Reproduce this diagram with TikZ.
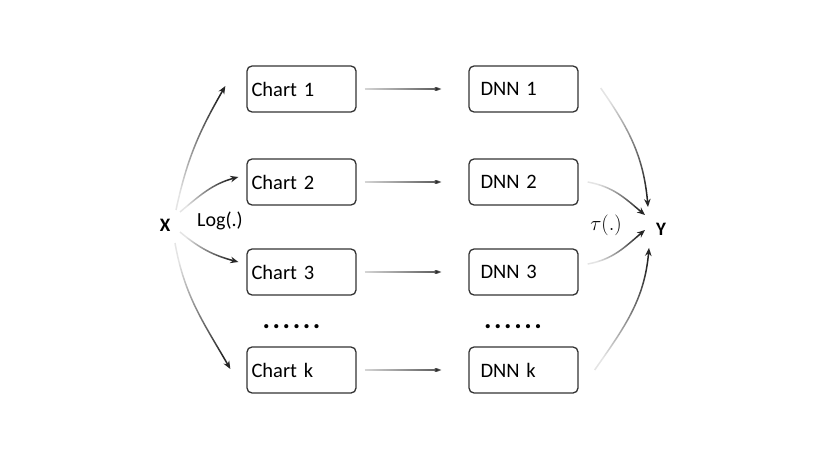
\documentclass[tikz,border=0pt]{standalone}
\usepackage{fontspec}
\setmainfont{Carlito}
\usetikzlibrary{arrows.meta,fadings}
\tikzfading[name=fadein, left color=transparent!88, middle color=transparent!5, right color=transparent!0]
\begin{document}
\begin{tikzpicture}[x=1pt,y=1pt,
  box/.style={draw=black!80, line width=1.3pt, rounded corners=5pt, minimum width=109pt, minimum height=46pt, align=left, font=\fontsize{20.5}{24}\selectfont},
  chartbox/.style={box, inner xsep=4.5pt, text width=100pt},
  dnnbox/.style={box, inner xsep=11.5pt, text width=86pt},
  lbl/.style={font=\fontsize{20}{24}\selectfont, inner sep=0pt},
  var/.style={font=\fontsize{19}{22}\selectfont\bfseries, inner sep=0pt},
  dotrow/.style={font=\fontsize{28}{28}\selectfont\bfseries, inner sep=0pt},
  conn/.style={draw=black!85, line width=1.5pt, -{Stealth[length=8pt,width=6.5pt]}},
]
\fill[white] (0,0) rectangle (817,-460);
\useasboundingbox (0,0) rectangle (817,-460);

\node[chartbox] (c1) at (301.5,-89) {Chart 1};
\node[chartbox] (c2) at (301.5,-182) {Chart 2};
\node[chartbox] (c3) at (301.5,-272) {Chart 3};
\node[chartbox] (ck) at (301.5,-370) {Chart k};
\node[dnnbox] (d1) at (523.5,-89) {DNN 1};
\node[dnnbox] (d2) at (523.5,-182) {DNN 2};
\node[dnnbox] (d3) at (523.5,-272) {DNN 3};
\node[dnnbox] (dk) at (523.5,-370) {DNN k};

\node[dotrow] (dl) at (291.5,-326.5) {.\hskip2.6pt.\hskip2.6pt.\hskip2.6pt.\hskip2.6pt.\hskip2.6pt.};
\node[dotrow] (dr) at (513,-326.5) {.\hskip2.6pt.\hskip2.6pt.\hskip2.6pt.\hskip2.6pt.\hskip2.6pt.};

\node[var] (X) at (165,-225) {X};
\node[var] (Y) at (661,-229) {Y};
\node[lbl] (log) at (220,-221) {Log(.)};
\node[lbl] (tau) at (606,-225) {$\tau(.)$};

\foreach \a/\b in {c1/d1,c2/d2,c3/d3,ck/dk}
  \draw[conn, path fading=fadein, shorten <=8pt, shorten >=27pt] (\a) -- (\b);

\draw[conn, path fading=fadein, fading angle=68] ([shift={(11,15)}]X.center) to[out=78,in=240] ([shift={(-21,3)}]c1.west);
\draw[conn, path fading=fadein, fading angle=31] ([shift={(15,13)}]X.center) to[out=40,in=195] ([shift={(-8,5)}]c2.west);
\draw[conn, path fading=fadein, fading angle=-27] ([shift={(15,-7)}]X.center) to[out=-40,in=165] ([shift={(-8,10)}]c3.west);
\draw[conn, path fading=fadein, fading angle=-66] ([shift={(10,-18)}]X.center) to[out=-80,in=120] ([shift={(-16,1)}]ck.west);

\draw[conn, path fading=fadein, fading angle=-68] ([shift={(22,1)}]d1.east) to[out=-55,in=95] ([shift={(-13,22)}]Y.center);
\draw[conn, path fading=fadein, fading angle=-30] ([shift={(9,0)}]d2.east) to[out=-10,in=140] ([shift={(-16,14)}]Y.center);
\draw[conn, path fading=fadein, fading angle=30] ([shift={(9,8)}]d3.east) to[out=10,in=220] ([shift={(-16,-1)}]Y.center);
\draw[conn, path fading=fadein, fading angle=66] ([shift={(16,0)}]dk.east) to[out=55,in=265] ([shift={(-12,-19)}]Y.center);
\end{tikzpicture}
\end{document}
